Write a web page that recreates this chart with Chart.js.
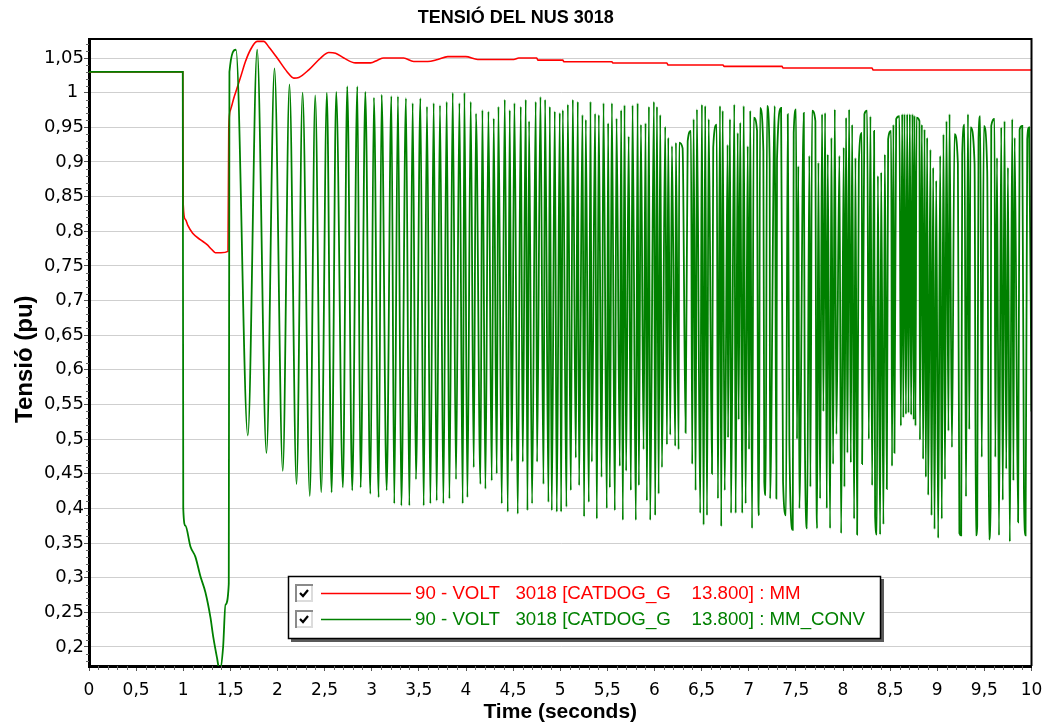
<!DOCTYPE html>
<html>
<head>
<meta charset="utf-8">
<title>TENSIÓ DEL NUS 3018</title>
<script src="https://cdn.jsdelivr.net/npm/chart.js@4.4.1/dist/chart.umd.min.js"></script>
<style>
  html, body { margin: 0; padding: 0; background: #ffffff; }
  #wrap { width: 1044px; height: 727px; position: relative; }
</style>
</head>
<body>
<div id="wrap"><canvas id="chart" width="1044" height="727"></canvas></div>
<script>
// ---- texts ----
const chartTitle = 'TENSIÓ DEL NUS 3018';
const xAxisTitle = 'Time (seconds)';
const yAxisTitle = 'Tensió (pu)  ';
const seriesLabels = [
  '90 - VOLT   3018 [CATDOG_G    13.800] : MM',
  '90 - VOLT   3018 [CATDOG_G    13.800] : MM_CONV'
];

// ---- tick values ----
const xTickValues = [0, 0.5, 1, 1.5, 2, 2.5, 3, 3.5, 4, 4.5, 5, 5.5, 6, 6.5, 7, 7.5, 8, 8.5, 9, 9.5, 10];
const yTickValues = [0.2, 0.25, 0.3, 0.35, 0.4, 0.45, 0.5, 0.55, 0.6, 0.65, 0.7, 0.75, 0.8, 0.85, 0.9, 0.95, 1, 1.05];

// ---- series MM : [time s, voltage pu] ----
const voltMM = [
  [0, 1.03], [0.995, 1.03], [1.0, 0.838], [1.023, 0.817], [1.05, 0.808], [1.10, 0.797], [1.18, 0.788],
  [1.25, 0.781], [1.30, 0.774], [1.34, 0.769], [1.40, 0.769], [1.475, 0.771], [1.483, 0.949],
  [1.501, 0.975], [1.536, 0.992], [1.572, 1.007], [1.614, 1.025], [1.660, 1.045], [1.713, 1.062],
  [1.784, 1.074], [1.854, 1.074], [1.908, 1.066], [1.997, 1.050], [2.103, 1.030], [2.173, 1.021],
  [2.226, 1.022], [2.332, 1.033], [2.457, 1.050], [2.545, 1.058], [2.616, 1.057], [2.704, 1.050],
  [2.828, 1.043], [2.988, 1.043], [3.062, 1.047], [3.126, 1.050], [3.338, 1.050], [3.445, 1.045],
  [3.594, 1.045], [3.700, 1.048], [3.806, 1.052], [3.997, 1.052], [4.124, 1.048], [4.507, 1.048],
  [4.560, 1.050], [4.751, 1.050], [4.762, 1.047], [5.027, 1.047], [5.038, 1.0447], [5.548, 1.0447],
  [5.558, 1.0428], [6.132, 1.0428], [6.143, 1.040], [6.727, 1.040], [6.737, 1.038], [7.353, 1.038],
  [7.364, 1.0356], [8.309, 1.0356], [8.319, 1.0327], [10, 1.0327]
];

// ---- series MM_CONV : pre-fault and fault-on trajectory ----
const voltConvFault = [
  [0, 1.03], [0.995, 1.03], [1.0, 0.40], [1.023, 0.375], [1.076, 0.345], [1.129, 0.330], [1.182, 0.302],
  [1.235, 0.279], [1.288, 0.243], [1.320, 0.213], [1.360, 0.183], [1.387, 0.165], [1.423, 0.200],
  [1.448, 0.261], [1.483, 0.291], [1.490, 1.030]
];

// ---- series MM_CONV : oscillation maxima ----
const voltConvPeaks = [
  [1.559, 1.062], [1.784, 1.062], [1.968, 1.035], [2.127, 1.012], [2.266, 1.000], [2.400, 0.996],
  [2.524, 1.000], [2.623, 1.001], [2.740, 1.009], [2.847, 1.009], [2.932, 1.001], [3.023, 0.993],
  [3.105, 0.997], [3.208, 0.995], [3.278, 0.995], [3.363, 0.992], [3.434, 0.985], [3.516, 0.992],
  [3.586, 0.980], [3.657, 0.985], [3.724, 0.982], [3.795, 0.987], [3.859, 1.000], [3.930, 0.985],
  [3.983, 1.000], [4.050, 0.987], [4.106, 0.970], [4.174, 0.975], [4.238, 0.973], [4.294, 0.963],
  [4.344, 0.980], [4.411, 0.990], [4.464, 0.975], [4.514, 0.985], [4.581, 0.980], [4.634, 0.990],
  [4.669, 0.959], [4.740, 0.987], [4.790, 0.994], [4.839, 0.990], [4.889, 0.980], [4.942, 0.973],
  [4.995, 0.971], [5.027, 0.975], [5.080, 0.983], [5.133, 0.990], [5.186, 0.987], [5.236, 0.968],
  [5.271, 0.961], [5.321, 0.987], [5.370, 0.970], [5.409, 0.968], [5.459, 0.985], [5.508, 0.956],
  [5.548, 0.985], [5.597, 0.963], [5.646, 0.975], [5.682, 0.982], [5.726, 0.937], [5.767, 0.982],
  [5.821, 0.985], [5.856, 0.954], [5.905, 0.956], [5.941, 0.980], [5.994, 0.987], [6.026, 0.980],
  [6.061, 0.968], [6.114, 0.951], [6.146, 0.935], [6.185, 0.923], [6.227, 0.928], [6.262, 0.928],
  [6.298, 0.920], [6.352, 0.930], [6.387, 0.945], [6.415, 0.962], [6.450, 0.976], [6.503, 0.983],
  [6.538, 0.981], [6.575, 0.962], [6.623, 0.921], [6.660, 0.954], [6.695, 0.981], [6.723, 0.974],
  [6.776, 0.925], [6.801, 0.962], [6.847, 0.983], [6.883, 0.942], [6.910, 0.957], [6.946, 0.981],
  [6.989, 0.923], [7.016, 0.974], [7.053, 0.964], [7.088, 0.945], [7.120, 0.978], [7.155, 0.916],
  [7.194, 0.981], [7.222, 0.901], [7.276, 0.981], [7.300, 0.904], [7.343, 0.978], [7.414, 0.969],
  [7.477, 0.942], [7.502, 0.976], [7.526, 0.894], [7.584, 0.971], [7.643, 0.909], [7.672, 0.974],
  [7.707, 0.959], [7.739, 0.899], [7.778, 0.969], [7.810, 0.971], [7.838, 0.911], [7.877, 0.935],
  [7.913, 0.976], [7.962, 0.909], [8.008, 0.921], [8.033, 0.964], [8.065, 0.976], [8.097, 0.954],
  [8.132, 0.906], [8.168, 0.899], [8.200, 0.942], [8.227, 0.969], [8.256, 0.974], [8.291, 0.966],
  [8.330, 0.945], [8.370, 0.880], [8.405, 0.885], [8.444, 0.911], [8.479, 0.933], [8.511, 0.945],
  [8.535, 0.954], [8.564, 0.962], [8.599, 0.966], [8.628, 0.969], [8.652, 0.969], [8.681, 0.969],
  [8.709, 0.969], [8.737, 0.969], [8.758, 0.967], [8.780, 0.964], [8.811, 0.959], [8.837, 0.954],
  [8.865, 0.947], [8.893, 0.935], [8.928, 0.918], [8.957, 0.892], [8.989, 0.873], [9.031, 0.909],
  [9.066, 0.940], [9.098, 0.959], [9.130, 0.969], [9.183, 0.940], [9.219, 0.897], [9.265, 0.911],
  [9.289, 0.954], [9.326, 0.969], [9.353, 0.950], [9.396, 0.897], [9.438, 0.933], [9.456, 0.966],
  [9.495, 0.952], [9.530, 0.887], [9.573, 0.952], [9.608, 0.962], [9.634, 0.906], [9.679, 0.950],
  [9.714, 0.959], [9.750, 0.892], [9.796, 0.962], [9.821, 0.935], [9.874, 0.947], [9.902, 0.952],
  [9.955, 0.933], [9.975, 0.950]
];

// ---- series MM_CONV : oscillation minima ----
const voltConvTroughs = [
  [1.685, 0.505], [1.883, 0.480], [2.056, 0.454], [2.202, 0.435], [2.343, 0.418], [2.464, 0.423],
  [2.574, 0.423], [2.694, 0.430], [2.793, 0.426], [2.882, 0.430], [2.985, 0.421], [3.073, 0.416],
  [3.158, 0.426], [3.239, 0.407], [3.314, 0.404], [3.399, 0.404], [3.469, 0.442], [3.551, 0.404],
  [3.622, 0.407], [3.689, 0.411], [3.760, 0.407], [3.824, 0.414], [3.894, 0.442], [3.965, 0.407],
  [4.015, 0.416], [4.082, 0.459], [4.153, 0.435], [4.206, 0.428], [4.273, 0.440], [4.326, 0.450],
  [4.379, 0.407], [4.443, 0.395], [4.485, 0.468], [4.549, 0.392], [4.602, 0.467], [4.652, 0.397],
  [4.701, 0.407], [4.754, 0.467], [4.822, 0.435], [4.875, 0.409], [4.910, 0.397], [4.963, 0.395],
  [5.009, 0.395], [5.066, 0.402], [5.112, 0.426], [5.165, 0.473], [5.200, 0.433], [5.253, 0.388],
  [5.303, 0.409], [5.335, 0.467], [5.388, 0.385], [5.438, 0.445], [5.494, 0.400], [5.526, 0.430],
  [5.579, 0.397], [5.632, 0.461], [5.664, 0.383], [5.699, 0.454], [5.749, 0.426], [5.802, 0.383],
  [5.834, 0.433], [5.884, 0.485], [5.919, 0.411], [5.954, 0.383], [6.007, 0.390], [6.044, 0.421],
  [6.079, 0.459], [6.132, 0.492], [6.167, 0.506], [6.220, 0.490], [6.256, 0.485], [6.330, 0.509],
  [6.400, 0.464], [6.436, 0.426], [6.485, 0.393], [6.521, 0.376], [6.557, 0.390], [6.610, 0.450],
  [6.673, 0.414], [6.708, 0.374], [6.745, 0.426], [6.780, 0.502], [6.812, 0.393], [6.861, 0.393],
  [6.893, 0.528], [6.931, 0.393], [6.967, 0.407], [7.003, 0.485], [7.035, 0.371], [7.098, 0.493],
  [7.109, 0.390], [7.165, 0.438], [7.180, 0.419], [7.226, 0.414], [7.293, 0.414], [7.364, 0.438],
  [7.395, 0.390], [7.431, 0.495], [7.467, 0.369], [7.512, 0.500], [7.537, 0.400], [7.595, 0.509],
  [7.619, 0.371], [7.654, 0.431], [7.716, 0.495], [7.725, 0.371], [7.757, 0.414], [7.792, 0.540],
  [7.828, 0.400], [7.863, 0.371], [7.895, 0.464], [7.930, 0.507], [7.980, 0.364], [8.015, 0.431],
  [8.047, 0.480], [8.083, 0.466], [8.118, 0.385], [8.150, 0.362], [8.203, 0.464], [8.274, 0.500],
  [8.309, 0.433], [8.341, 0.388], [8.359, 0.362], [8.394, 0.362], [8.429, 0.377], [8.465, 0.428],
  [8.520, 0.461], [8.546, 0.480], [8.614, 0.519], [8.640, 0.531], [8.668, 0.536], [8.695, 0.538],
  [8.723, 0.535], [8.750, 0.528], [8.769, 0.519], [8.816, 0.499], [8.850, 0.471], [8.879, 0.445],
  [8.904, 0.419], [8.939, 0.390], [8.971, 0.370], [9.010, 0.357], [9.048, 0.385], [9.082, 0.442],
  [9.119, 0.512], [9.156, 0.488], [9.235, 0.364], [9.254, 0.361], [9.305, 0.417], [9.340, 0.514],
  [9.410, 0.361], [9.424, 0.374], [9.472, 0.474], [9.550, 0.355], [9.566, 0.402], [9.616, 0.474],
  [9.655, 0.361], [9.695, 0.412], [9.732, 0.457], [9.770, 0.352], [9.808, 0.440], [9.858, 0.380],
  [9.920, 0.421], [9.937, 0.361], [10.0, 0.540]
];

// ---- build point lists for the library ----
const toPoints = arr => arr.map(([t, v]) => ({ x: t, y: v }));
const mmPoints = toPoints(voltMM);
const convOsc = toPoints(voltConvPeaks).concat(toPoints(voltConvTroughs)).sort((a, b) => a.x - b.x);
const convPoints = toPoints(voltConvFault).concat(convOsc);
for (let i = 1; i < convPoints.length; i++) {
  if (convPoints[i].x <= convPoints[i - 1].x) convPoints[i].x = convPoints[i - 1].x + 0.001;
}

const FONT = '"Liberation Sans", Arial, Helvetica, sans-serif';
const TICK_FONT = '"DejaVu Sans", Verdana, sans-serif';
const RED = '#ff0000';
const GREEN = '#008000';
const fmtComma = v => String(Math.round(v * 100) / 100).replace('.', ',');
// integer values on the voltage axis are padded on the right
const fmtVolt = v => Number.isInteger(Math.round(v * 100) / 100) ? fmtComma(v) + ' ' : fmtComma(v);

// minor ticks, frame and the legend panel
const decorPlugin = {
  id: 'decor',
  afterDraw(chart) {
    const { ctx, chartArea: a, scales: { x, y } } = chart;
    ctx.save();
    // minor ticks on the value axis (every 0.01)
    ctx.strokeStyle = '#666666';
    ctx.lineWidth = 1;
    ctx.beginPath();
    for (let i = 18; i <= 107; i++) {
      if (i % 5 === 0) continue;
      const py = Math.round(y.getPixelForValue(i / 100)) + 0.5;
      ctx.moveTo(a.left - 3, py);
      ctx.lineTo(a.left, py);
    }
    // minor ticks on the time axis (every 0.1 s)
    for (let i = 0; i <= 100; i++) {
      if (i % 5 === 0) continue;
      const px = Math.round(x.getPixelForValue(i / 10)) + 0.5;
      ctx.moveTo(px, a.bottom);
      ctx.lineTo(px, a.bottom + 4);
    }
    ctx.stroke();

    // top and right frame
    ctx.strokeStyle = '#000000';
    ctx.lineWidth = 2;
    ctx.beginPath();
    ctx.moveTo(a.left, a.top);
    ctx.lineTo(a.right, a.top);
    ctx.lineTo(a.right, a.bottom);
    ctx.stroke();

    // legend panel
    const bx = 288, by = 576, bw = 593, bh = 63;
    ctx.fillStyle = '#5a5a5a';
    ctx.fillRect(bx + 3, by + 3, bw, bh);
    ctx.fillStyle = '#ffffff';
    ctx.fillRect(bx, by, bw, bh);
    ctx.strokeStyle = '#000000';
    ctx.lineWidth = 1.5;
    ctx.strokeRect(bx + 0.5, by + 0.5, bw - 1, bh - 1);

    const rows = [
      { y: 593, color: RED, text: seriesLabels[0] },
      { y: 619, color: GREEN, text: seriesLabels[1] }
    ];
    rows.forEach(r => {
      // check box
      const cx = 295, cy = r.y - 9, cs = 18;
      ctx.fillStyle = '#ffffff';
      ctx.fillRect(cx, cy, cs, cs);
      ctx.lineWidth = 2;
      ctx.strokeStyle = '#8a8a8a';
      ctx.beginPath();
      ctx.moveTo(cx + 1, cy + cs); ctx.lineTo(cx + 1, cy + 1); ctx.lineTo(cx + cs, cy + 1);
      ctx.stroke();
      ctx.strokeStyle = '#dcdcdc';
      ctx.beginPath();
      ctx.moveTo(cx + cs - 1, cy + 2); ctx.lineTo(cx + cs - 1, cy + cs - 1); ctx.lineTo(cx + 2, cy + cs - 1);
      ctx.stroke();
      ctx.strokeStyle = '#000000';
      ctx.lineWidth = 2.2;
      ctx.beginPath();
      ctx.moveTo(cx + 5, cy + 9);
      ctx.lineTo(cx + 8, cy + 12);
      ctx.lineTo(cx + 13, cy + 6);
      ctx.stroke();
      // line sample
      ctx.strokeStyle = r.color;
      ctx.lineWidth = 1.6;
      ctx.beginPath();
      ctx.moveTo(321, r.y + 0.5);
      ctx.lineTo(411, r.y + 0.5);
      ctx.stroke();
      // label
      ctx.fillStyle = r.color;
      ctx.font = '18.7px ' + FONT;
      ctx.textAlign = 'left';
      ctx.textBaseline = 'middle';
      ctx.fillText(r.text, 415, r.y + 1);
    });
    ctx.restore();
  }
};

new Chart(document.getElementById('chart'), {
  type: 'line',
  data: {
    datasets: [
      {
        label: seriesLabels[0],
        data: mmPoints,
        borderColor: RED,
        borderWidth: 1.6,
        pointRadius: 0,
        cubicInterpolationMode: 'monotone',
        order: 1
      },
      {
        label: seriesLabels[1],
        data: convPoints,
        borderColor: GREEN,
        borderWidth: 1.8,
        pointRadius: 0,
        cubicInterpolationMode: 'monotone',
        order: 0
      }
    ]
  },
  options: {
    responsive: false,
    animation: false,
    devicePixelRatio: 1,
    parsing: false,
    normalized: true,
    events: [],
    layout: { padding: { left: 0, right: 12.5, top: 0, bottom: 0 } },
    plugins: {
      legend: { display: false },
      tooltip: { enabled: false },
      title: {
        display: true,
        text: chartTitle,
        color: '#000000',
        font: { family: FONT, size: 18, weight: 'bold' },
        padding: { top: 7, bottom: 10.4 }
      }
    },
    scales: {
      x: {
        type: 'linear',
        min: 0,
        max: 10,
        afterBuildTicks: s => { s.ticks = xTickValues.map(v => ({ value: v })); },
        afterFit: s => { s.height = 61; s.paddingLeft = 0; s.paddingRight = 0; },
        ticks: {
          callback: v => fmtComma(v),
          color: '#000000',
          font: { family: TICK_FONT, size: 17 },
          padding: 9,
          maxRotation: 0,
          autoSkip: false
        },
        grid: { drawOnChartArea: false, drawTicks: true, tickLength: 5, tickColor: '#555555', tickWidth: 1 },
        border: { display: true, color: '#000000', width: 3 },
        title: {
          display: true,
          text: xAxisTitle,
          color: '#000000',
          font: { family: FONT, size: 21, weight: 'bold' },
          padding: { top: 0, bottom: 2.4 }
        }
      },
      y: {
        type: 'linear',
        min: 0.1725,
        max: 1.0775,
        afterBuildTicks: s => { s.ticks = yTickValues.map(v => ({ value: v })); },
        afterFit: s => { s.width = 89; s.paddingTop = 0; s.paddingBottom = 0; },
        ticks: {
          callback: v => fmtVolt(v),
          color: '#000000',
          font: { family: TICK_FONT, size: 18 },
          padding: 0,
          autoSkip: false
        },
        grid: { color: '#cfcfcf', lineWidth: 1, drawTicks: true, tickLength: 5, tickColor: '#555555' },
        border: { display: true, color: '#000000', width: 3 },
        title: {
          display: true,
          text: yAxisTitle,
          color: '#000000',
          font: { family: FONT, size: 24, weight: 'bold' },
          padding: { top: 11, bottom: 0 }
        }
      }
    }
  },
  plugins: [decorPlugin]
});
</script>
</body>
</html>
